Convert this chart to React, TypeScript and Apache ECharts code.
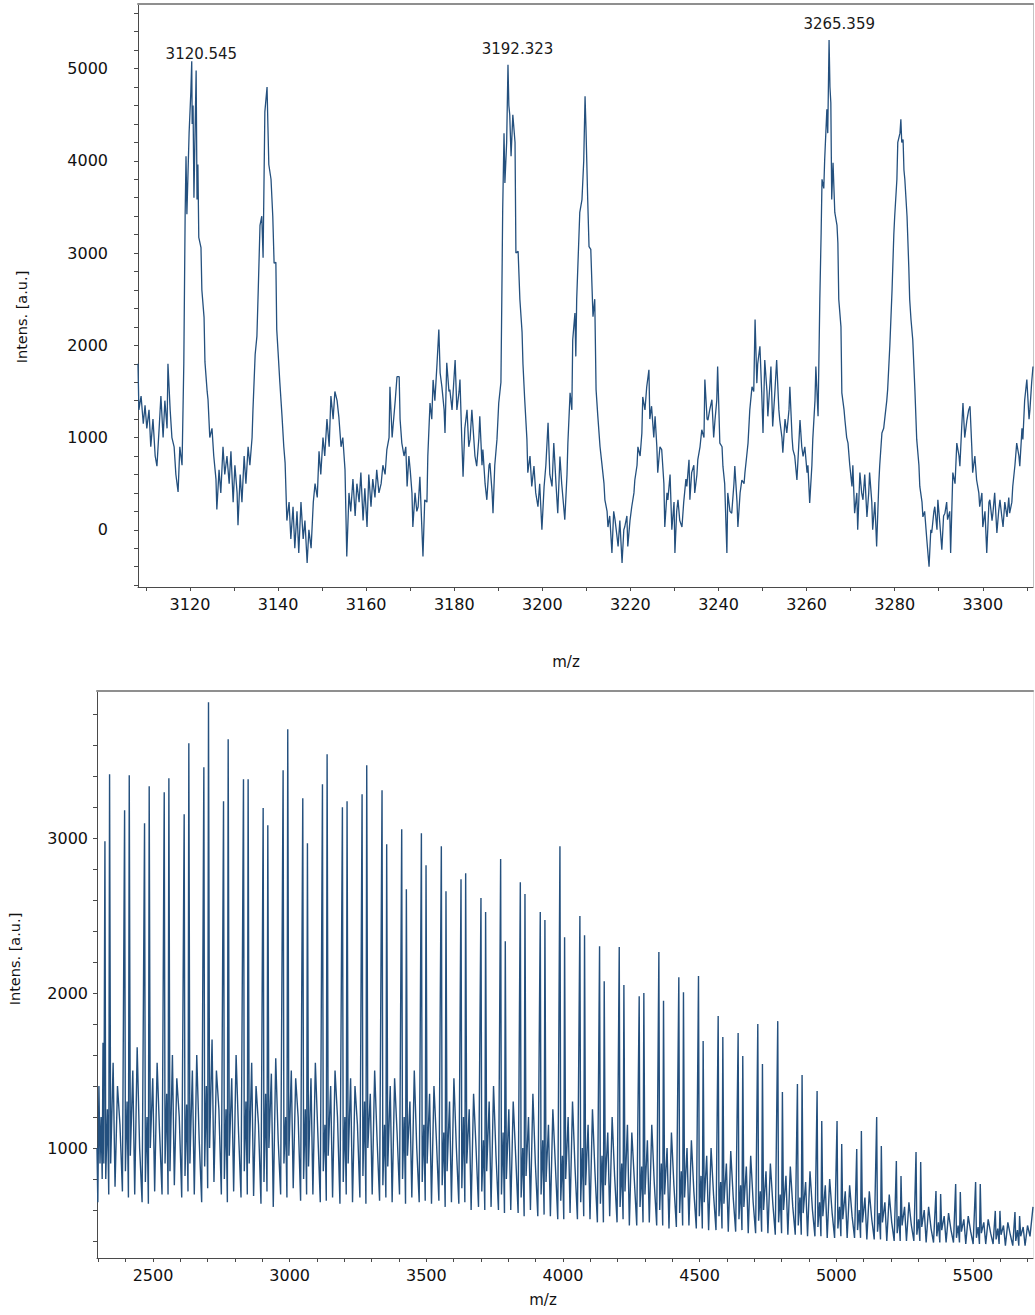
import React, { useEffect, useRef } from "react";
import * as echarts from "echarts";

// ---------- Top spectrum (zoomed m/z 3108–3311) ----------
const topSpectrum: [number, number][] = [
  [3108.2, 1800], [3108.4, 1300], [3108.9, 1450], [3109.4, 1150], [3109.8, 1350], [3110.2, 1100], [3110.7, 1300], [3111.1, 900],
  [3111.6, 1200], [3112.1, 800], [3112.5, 690], [3113.0, 1100], [3113.4, 1450], [3113.9, 1000], [3114.3, 1400], [3114.8, 1100],
  [3115.0, 1800], [3115.5, 1300], [3115.9, 1000], [3116.4, 900], [3116.8, 600], [3117.3, 410], [3117.7, 900], [3118.2, 700],
  [3118.6, 1800], [3118.9, 3400], [3119.1, 4050], [3119.3, 3420], [3119.8, 4300], [3120.2, 4750], [3120.4, 5080], [3120.5, 4400],
  [3120.7, 4600], [3120.9, 3600], [3121.4, 4980], [3121.6, 3580], [3121.8, 3960], [3122.0, 3170], [3122.5, 3060], [3122.7, 2600],
  [3123.2, 2300], [3123.4, 1820], [3123.9, 1500], [3124.1, 1410], [3124.5, 1000], [3125.0, 1100], [3125.4, 800], [3125.9, 550],
  [3126.1, 220], [3126.6, 650], [3127.0, 400], [3127.5, 900], [3127.9, 600], [3128.4, 800], [3128.9, 500], [3129.3, 850],
  [3129.8, 300], [3130.2, 700], [3130.7, 400], [3130.9, 50], [3131.4, 600], [3131.8, 300], [3132.3, 800], [3132.7, 500],
  [3133.2, 900], [3133.6, 700], [3134.1, 1000], [3134.3, 1300], [3134.8, 1900], [3135.2, 2100], [3135.5, 2600], [3135.9, 3300],
  [3136.3, 3400], [3136.6, 2950], [3137.0, 4530], [3137.5, 4800], [3137.7, 4370], [3137.9, 3960], [3138.4, 3800], [3138.8, 3400],
  [3139.1, 2890], [3139.5, 2900], [3139.7, 2170], [3140.0, 1930], [3140.4, 1600], [3140.9, 1230], [3141.3, 900], [3141.6, 725],
  [3142.0, 100], [3142.5, 300], [3142.9, -100], [3143.4, 250], [3143.8, -200], [3144.3, 200], [3144.7, -250], [3145.2, 300],
  [3145.7, -100], [3146.1, 100], [3146.6, -360], [3147.0, 0], [3147.5, -200], [3148.0, 300], [3148.4, 500], [3148.9, 350],
  [3149.3, 850], [3149.7, 600], [3150.2, 1000], [3150.6, 800], [3151.1, 1200], [3151.6, 900], [3152.0, 1450], [3152.5, 1200],
  [3152.9, 1500], [3153.4, 1400], [3153.8, 1225], [3154.3, 900], [3154.7, 1000], [3155.2, 650], [3155.6, -290], [3156.1, 400],
  [3156.5, 200], [3157.0, 550], [3157.5, 150], [3157.9, 500], [3158.4, 300], [3158.8, 620], [3159.3, 100], [3159.7, 450],
  [3160.2, 30], [3160.6, 600], [3161.1, 250], [3161.5, 550], [3162.0, 350], [3162.4, 650], [3162.9, 400], [3163.4, 500],
  [3163.8, 700], [3164.3, 600], [3164.7, 870], [3165.2, 1000], [3165.4, 1550], [3165.9, 1000], [3166.1, 1120], [3166.6, 1400],
  [3167.0, 1660], [3167.5, 1660], [3167.7, 1200], [3168.1, 940], [3168.6, 800], [3169.0, 900], [3169.3, 470], [3169.7, 800],
  [3170.0, 650], [3170.4, 400], [3170.6, 30], [3171.1, 400], [3171.5, 200], [3171.8, 250], [3172.2, 575], [3172.5, 200],
  [3172.9, -290], [3173.3, 325], [3173.8, 300], [3174.0, 800], [3174.5, 1375], [3174.9, 1200], [3175.2, 1625], [3175.6, 1400],
  [3176.1, 1810], [3176.5, 2170], [3176.8, 1700], [3177.2, 1550], [3177.7, 1300], [3177.9, 1050], [3178.3, 1810], [3178.8, 1500],
  [3179.0, 1520], [3179.5, 1300], [3180.2, 1840], [3180.6, 1300], [3181.1, 1500], [3181.3, 1630], [3181.7, 1000], [3182.0, 575],
  [3182.4, 1100], [3182.9, 1300], [3183.3, 900], [3183.6, 980], [3184.0, 1300], [3184.2, 1160], [3184.7, 800], [3185.1, 690],
  [3185.6, 1000], [3185.8, 1230], [3186.3, 700], [3186.5, 870], [3187.0, 500], [3187.4, 325], [3187.9, 700], [3188.1, 725],
  [3188.6, 400], [3188.8, 180], [3189.2, 700], [3189.7, 980], [3190.1, 1375], [3190.6, 1600], [3190.8, 2500], [3191.0, 3470],
  [3191.3, 4300], [3191.5, 3760], [3191.9, 4200], [3192.2, 5040], [3192.4, 4600], [3192.6, 4500], [3192.9, 4050], [3193.3, 4500],
  [3193.8, 4200], [3194.0, 3000], [3194.5, 3020], [3194.9, 2500], [3195.4, 2140], [3195.6, 1800], [3196.0, 1410], [3196.5, 980],
  [3196.7, 620], [3197.2, 800], [3197.6, 470], [3198.1, 690], [3198.5, 400], [3199.0, 250], [3199.4, 500], [3199.9, 0],
  [3200.4, 470], [3200.8, 700], [3201.3, 1160], [3201.7, 600], [3202.2, 470], [3202.6, 940], [3203.1, 500], [3203.5, 180],
  [3204.0, 795], [3204.4, 500], [3205.1, 110], [3205.6, 600], [3205.8, 940], [3206.3, 1485], [3206.7, 1300], [3206.9, 2060],
  [3207.4, 2350], [3207.6, 1880], [3207.8, 2500], [3208.5, 3440], [3209.0, 3580], [3209.4, 4000], [3209.7, 4700], [3209.9, 4370],
  [3210.3, 3580], [3210.6, 3070], [3211.0, 3040], [3211.5, 2310], [3211.9, 2500], [3212.2, 1520], [3212.6, 1230], [3213.1, 900],
  [3213.5, 725], [3214.0, 500], [3214.2, 325], [3214.7, 200], [3214.9, 30], [3215.3, 150], [3215.8, -250], [3216.2, 200],
  [3216.5, 110], [3216.9, -50], [3217.2, -180], [3217.6, 100], [3218.1, -360], [3218.5, 0], [3218.7, 30], [3219.2, 150],
  [3219.4, -180], [3219.9, 100], [3220.3, 250], [3220.8, 400], [3221.0, 540], [3221.5, 700], [3221.7, 900], [3222.2, 800],
  [3222.6, 1050], [3222.8, 1440], [3223.3, 1300], [3223.7, 1550], [3224.2, 1735], [3224.4, 1200], [3224.8, 1340], [3225.3, 1000],
  [3225.6, 1230], [3226.0, 900], [3226.2, 620], [3226.7, 900], [3227.1, 870], [3227.6, 500], [3227.8, 30], [3228.3, 400],
  [3228.5, 325], [3229.0, 600], [3229.4, 0], [3229.9, 300], [3230.1, -250], [3230.5, 200], [3230.8, 325], [3231.2, 100],
  [3231.7, 30], [3232.1, 300], [3232.6, 550], [3232.8, 470], [3233.3, 760], [3233.5, 325], [3233.9, 620], [3234.4, 700],
  [3234.6, 400], [3235.1, 600], [3235.3, 760], [3235.8, 900], [3236.2, 1085], [3236.7, 1000], [3236.9, 1630], [3237.4, 1200],
  [3237.6, 1190], [3238.0, 1300], [3238.5, 1410], [3238.9, 1000], [3239.2, 1190], [3239.6, 1400], [3239.8, 1770], [3240.3, 940],
  [3240.8, 900], [3241.0, 690], [3241.4, 500], [3241.9, -250], [3242.1, 400], [3242.6, 200], [3243.0, 180], [3243.5, 500],
  [3243.7, 690], [3244.2, 300], [3244.4, 30], [3244.9, 400], [3245.3, 540], [3245.8, 500], [3246.0, 620], [3246.4, 800],
  [3246.7, 940], [3247.1, 1300], [3247.6, 1550], [3248.0, 1500], [3248.3, 2280], [3248.7, 1590], [3248.9, 1800], [3249.4, 1990],
  [3249.8, 1500], [3250.1, 1050], [3250.5, 1840], [3251.0, 1500], [3251.2, 1230], [3251.7, 1600], [3251.9, 1770], [3252.3, 1120],
  [3252.8, 1500], [3253.2, 1840], [3253.7, 1300], [3253.9, 1190], [3254.4, 1000], [3254.6, 835], [3255.1, 1200], [3255.5, 1050],
  [3256.0, 1300], [3256.2, 1550], [3256.7, 1000], [3256.9, 870], [3257.3, 800], [3257.8, 540], [3258.2, 900], [3258.5, 1190],
  [3258.9, 900], [3259.2, 795], [3259.6, 900], [3260.1, 620], [3260.3, 700], [3260.7, 290], [3261.2, 700], [3261.4, 980],
  [3261.9, 1400], [3262.1, 1770], [3262.6, 1230], [3263.0, 2500], [3263.3, 3220], [3263.5, 3800], [3263.9, 3700], [3264.1, 4010],
  [3264.6, 4560], [3264.8, 4300], [3265.1, 5310], [3265.3, 4800], [3265.5, 4630], [3265.7, 3580], [3266.0, 3980], [3266.4, 3440],
  [3266.9, 3300], [3267.1, 3110], [3267.3, 2500], [3267.8, 2200], [3268.0, 1485], [3268.5, 1300], [3268.7, 1190], [3269.1, 1000],
  [3269.4, 940], [3269.8, 700], [3270.3, 470], [3270.5, 700], [3270.9, 180], [3271.4, 400], [3271.6, 0], [3272.1, 620],
  [3272.5, 400], [3272.8, 325], [3273.2, 600], [3273.7, 140], [3274.1, 400], [3274.3, 620], [3274.8, 300], [3275.0, 0],
  [3275.5, 300], [3275.9, -180], [3276.4, 510], [3276.6, 700], [3277.1, 1050], [3277.5, 1100], [3277.8, 1230], [3278.2, 1400],
  [3278.4, 1520], [3278.9, 2000], [3279.4, 2600], [3279.8, 3200], [3280.0, 3400], [3280.5, 3800], [3280.7, 4200], [3281.2, 4300],
  [3281.4, 4450], [3281.6, 4200], [3281.9, 4230], [3282.1, 3900], [3282.3, 3800], [3282.8, 3400], [3283.2, 2850], [3283.4, 2500],
  [3283.7, 2280], [3284.1, 2060], [3284.6, 1500], [3285.0, 980], [3285.5, 700], [3285.7, 470], [3286.2, 300], [3286.4, 140],
  [3286.8, 200], [3287.3, -110], [3287.8, -400], [3288.2, 0], [3288.4, -35], [3288.9, 200], [3289.1, 250], [3289.6, 0],
  [3289.8, 325], [3290.2, 100], [3290.7, -215], [3291.1, 150], [3291.4, 180], [3291.8, 300], [3292.0, 110], [3292.5, 200],
  [3292.7, -250], [3293.2, 620], [3293.7, 500], [3294.1, 940], [3294.6, 800], [3294.8, 690], [3295.2, 1100], [3295.5, 1375],
  [3295.9, 1000], [3296.4, 1190], [3296.8, 1300], [3297.1, 1340], [3297.5, 900], [3297.7, 620], [3298.2, 800], [3298.6, 540],
  [3299.1, 400], [3299.3, 250], [3299.8, 400], [3300.0, 30], [3300.5, 200], [3300.9, -250], [3301.4, 300], [3301.6, 325],
  [3302.1, 100], [3302.3, 180], [3302.7, 400], [3303.2, -35], [3303.6, 200], [3303.9, 325], [3304.3, 150], [3304.6, 30],
  [3305.0, 300], [3305.5, 140], [3305.9, 350], [3306.1, 180], [3306.6, 300], [3306.8, 470], [3307.3, 700], [3307.7, 940],
  [3308.2, 800], [3308.4, 690], [3308.9, 1100], [3309.1, 980], [3309.5, 1400], [3310.0, 1630], [3310.5, 1200], [3310.7, 1300],
  [3311.1, 1600], [3311.4, 1770],
];

// ---------- Bottom spectrum (full m/z 2295–5720) ----------
const bottomSpectrum: [number, number][] = [
  [2295, 1000], [2298, 650], [2302, 1400], [2306, 900], [2310, 1200], [2314, 800], [2317, 1680], [2320, 900],
  [2324, 2980], [2327, 800], [2333, 1250], [2338, 700], [2341, 3413], [2345, 900], [2354, 1550], [2361, 750], [2370, 1400], [2379, 1150], [2388, 720],
  [2396, 3180], [2399, 850], [2405, 1300], [2410, 680], [2413, 3406], [2417, 950], [2426, 1500], [2433, 700], [2442, 1650], [2451, 1000], [2460, 650],
  [2469, 3097], [2472, 780], [2478, 1200], [2483, 640], [2486, 3335], [2490, 1000], [2499, 1450], [2506, 720], [2515, 1550], [2524, 1100], [2533, 700],
  [2541, 3297], [2544, 900], [2550, 1350], [2555, 700], [2558, 3387], [2562, 850], [2571, 1600], [2578, 760], [2587, 1450], [2596, 1200], [2605, 680],
  [2614, 3155], [2617, 820], [2623, 1280], [2628, 720], [2631, 3613], [2635, 900], [2644, 1500], [2651, 700], [2660, 1600], [2669, 1050], [2678, 650],
  [2686, 3458], [2689, 880], [2695, 1400], [2700, 740], [2703, 3877], [2707, 1000], [2716, 1700], [2723, 780], [2732, 1500], [2741, 1250], [2750, 700],
  [2758, 3239], [2761, 800], [2767, 1250], [2772, 650], [2775, 3639], [2779, 950], [2788, 1450], [2795, 720], [2804, 1600], [2813, 1100], [2822, 680],
  [2831, 3381], [2834, 850], [2840, 1300], [2845, 700], [2848, 3381], [2852, 900], [2861, 1550], [2868, 690], [2877, 1400], [2886, 1150], [2895, 640],
  [2903, 3194], [2906, 780], [2912, 1350], [2917, 720], [2920, 3084], [2924, 1000], [2933, 1480], [2940, 620], [2949, 1580], [2958, 1050], [2967, 700],
  [2976, 3439], [2979, 900], [2985, 1200], [2990, 680], [2993, 3703], [2997, 950], [3006, 1500], [3013, 740], [3022, 1450], [3031, 1200], [3040, 660],
  [3048, 3258], [3051, 800], [3057, 1250], [3062, 700], [3065, 2968], [3069, 880], [3078, 1450], [3085, 700], [3094, 1550], [3103, 1100], [3112, 650],
  [3120, 3348], [3123, 850], [3129, 1150], [3134, 660], [3137, 3542], [3141, 950], [3150, 1400], [3157, 680], [3166, 1500], [3175, 1200], [3184, 640],
  [3193, 3200], [3196, 780], [3202, 1200], [3207, 700], [3210, 3239], [3214, 900], [3223, 1450], [3230, 650], [3239, 1400], [3248, 1150], [3257, 680],
  [3265, 3284], [3268, 820], [3274, 1300], [3279, 640], [3282, 3471], [3286, 1000], [3295, 1350], [3302, 700], [3311, 1500], [3320, 1050], [3329, 660],
  [3338, 3310], [3341, 760], [3347, 1150], [3352, 680], [3355, 2961], [3359, 880], [3368, 1400], [3375, 650], [3384, 1450], [3393, 1100], [3402, 700],
  [3410, 3058], [3413, 800], [3419, 1200], [3424, 640], [3427, 2671], [3431, 950], [3440, 1300], [3447, 680], [3456, 1500], [3465, 1000], [3474, 650],
  [3482, 3032], [3485, 780], [3491, 1150], [3496, 660], [3499, 2826], [3503, 900], [3512, 1350], [3519, 640], [3528, 1400], [3537, 1050], [3546, 660],
  [3555, 2948], [3558, 760], [3564, 1100], [3569, 620], [3572, 2658], [3576, 850], [3585, 1300], [3592, 650], [3601, 1450], [3610, 1000], [3619, 640],
  [3627, 2735], [3630, 740], [3636, 1200], [3641, 650], [3644, 2774], [3648, 900], [3657, 1250], [3664, 600], [3673, 1350], [3682, 1000], [3691, 620],
  [3700, 2613], [3703, 720], [3709, 1050], [3714, 600], [3717, 2523], [3721, 850], [3730, 1300], [3737, 620], [3746, 1400], [3755, 950], [3764, 600],
  [3772, 2865], [3775, 700], [3781, 1100], [3786, 580], [3789, 2335], [3793, 800], [3802, 1250], [3809, 600], [3818, 1300], [3827, 950], [3836, 580],
  [3844, 2716], [3847, 680], [3853, 1000], [3858, 560], [3861, 2639], [3865, 820], [3874, 1200], [3881, 600], [3890, 1350], [3899, 900], [3908, 560],
  [3917, 2523], [3920, 700], [3926, 1050], [3931, 570], [3934, 2471], [3938, 780], [3947, 1150], [3954, 560], [3963, 1250], [3972, 900], [3981, 540],
  [3989, 2948], [3992, 660], [3998, 950], [4003, 540], [4006, 2361], [4010, 800], [4019, 1200], [4026, 580], [4035, 1300], [4044, 880], [4053, 540],
  [4062, 2497], [4065, 650], [4071, 1000], [4076, 560], [4079, 2374], [4083, 760], [4092, 1150], [4099, 540], [4108, 1250], [4117, 850], [4126, 520],
  [4134, 2303], [4137, 640], [4143, 950], [4148, 520], [4151, 2077], [4155, 760], [4164, 1100], [4171, 560], [4180, 1200], [4189, 820], [4198, 520],
  [4206, 2297], [4209, 620], [4215, 900], [4220, 540], [4223, 2052], [4227, 720], [4236, 1150], [4243, 500], [4252, 1100], [4261, 800], [4270, 500],
  [4279, 1980], [4282, 620], [4288, 880], [4293, 520], [4296, 2000], [4300, 700], [4309, 1050], [4316, 520], [4325, 1150], [4334, 780], [4343, 500],
  [4351, 2265], [4354, 600], [4360, 900], [4365, 500], [4368, 1950], [4372, 700], [4381, 1000], [4388, 480], [4397, 1100], [4406, 760], [4415, 490],
  [4424, 2103], [4427, 580], [4433, 850], [4438, 500], [4441, 2006], [4445, 680], [4454, 1000], [4461, 500], [4470, 1050], [4479, 720], [4488, 480],
  [4496, 2110], [4499, 560], [4505, 820], [4510, 480], [4513, 1690], [4517, 650], [4526, 950], [4533, 470], [4542, 1000], [4551, 700], [4560, 470],
  [4568, 1852], [4571, 560], [4577, 780], [4582, 480], [4585, 1716], [4589, 640], [4598, 900], [4605, 460], [4614, 980], [4623, 680], [4632, 460],
  [4641, 1742], [4644, 540], [4650, 760], [4655, 470], [4658, 1594], [4662, 620], [4671, 880], [4678, 450], [4687, 950], [4696, 650], [4705, 450],
  [4713, 1800], [4716, 530], [4722, 720], [4727, 460], [4730, 1542], [4734, 600], [4743, 850], [4750, 450], [4759, 900], [4768, 640], [4777, 440],
  [4786, 1819], [4789, 520], [4795, 700], [4800, 450], [4803, 1361], [4807, 600], [4816, 820], [4823, 440], [4832, 880], [4841, 620], [4850, 440],
  [4858, 1413], [4861, 500], [4867, 680], [4872, 440], [4875, 1471], [4879, 580], [4888, 780], [4895, 430], [4904, 850], [4913, 600], [4922, 430],
  [4930, 1368], [4933, 490], [4939, 650], [4944, 430], [4947, 1174], [4951, 560], [4960, 760], [4967, 420], [4976, 800], [4985, 580], [4994, 420],
  [5003, 1174], [5006, 480], [5012, 620], [5017, 430], [5020, 1026], [5024, 540], [5033, 720], [5040, 420], [5049, 760], [5058, 560], [5067, 420],
  [5075, 994], [5078, 470], [5084, 600], [5089, 420], [5092, 1110], [5096, 520], [5105, 680], [5112, 410], [5121, 720], [5130, 540], [5139, 410],
  [5148, 1200], [5151, 460], [5157, 580], [5162, 410], [5165, 1013], [5169, 520], [5178, 650], [5185, 400], [5194, 700], [5203, 520], [5212, 400],
  [5220, 916], [5223, 450], [5229, 560], [5234, 400], [5237, 819], [5241, 500], [5250, 620], [5257, 400], [5266, 650], [5275, 500], [5284, 400],
  [5292, 974], [5295, 440], [5301, 540], [5306, 400], [5309, 910], [5313, 490], [5322, 600], [5329, 390], [5338, 620], [5347, 480], [5356, 390],
  [5365, 723], [5368, 430], [5374, 520], [5379, 390], [5382, 703], [5386, 470], [5395, 560], [5402, 390], [5411, 580], [5420, 470], [5429, 390],
  [5437, 768], [5440, 420], [5446, 500], [5451, 390], [5454, 716], [5458, 460], [5467, 540], [5474, 380], [5483, 560], [5492, 460], [5501, 380],
  [5510, 781], [5513, 420], [5519, 490], [5524, 380], [5527, 768], [5531, 450], [5540, 520], [5547, 380], [5556, 540], [5565, 450], [5574, 380],
  [5582, 594], [5585, 410], [5591, 480], [5596, 380], [5599, 594], [5603, 440], [5612, 500], [5619, 370], [5628, 520], [5637, 440], [5646, 370],
  [5654, 587], [5657, 400], [5663, 470], [5668, 370], [5671, 561], [5675, 430], [5684, 490], [5691, 370], [5700, 500], [5709, 430], [5720, 620],
];

// ---------- Axis ticks / labels ----------
const topXLabels = [3120, 3140, 3160, 3180, 3200, 3220, 3240, 3260, 3280, 3300];
const topXTicks = [3110, 3120, 3130, 3140, 3150, 3160, 3170, 3180, 3190, 3200, 3210, 3220, 3230, 3240, 3250, 3260, 3270, 3280, 3290, 3300, 3310];
const topYLabels = [0, 1000, 2000, 3000, 4000, 5000];
const topYTicks = [-600, -400, -200, 0, 200, 400, 600, 800, 1000, 1200, 1400, 1600, 1800, 2000, 2200, 2400, 2600, 2800, 3000, 3200, 3400, 3600, 3800, 4000, 4200, 4400, 4600, 4800, 5000, 5200, 5400, 5600];
const bottomXLabels = [2500, 3000, 3500, 4000, 4500, 5000, 5500];
const bottomXTicks = [2300, 2400, 2500, 2600, 2700, 2800, 2900, 3000, 3100, 3200, 3300, 3400, 3500, 3600, 3700, 3800, 3900, 4000, 4100, 4200, 4300, 4400, 4500, 4600, 4700, 4800, 4900, 5000, 5100, 5200, 5300, 5400, 5500, 5600, 5700];
const bottomYLabels = [1000, 2000, 3000];
const bottomYTicks = [400, 600, 800, 1000, 1200, 1400, 1600, 1800, 2000, 2200, 2400, 2600, 2800, 3000, 3200, 3400, 3600, 3800];

// ---------- Peak annotations ----------
const peakMz = [3120.545, 3192.323, 3265.359];
const peakIntens = [4980, 5040, 5310];
const peakText = ["3120.545", "3192.323", "3265.359"];

const FONT = "DejaVu Sans";
const LINE_COLOR = "#24507e";
const AXIS_COLOR = "#4a4a4a";
const TEXT_COLOR = "#111";
const plain = (v: number) => String(v);

function mainXAxis(gridIndex: number, min: number, max: number, ticks: number[], labels: number[]) {
  return {
    type: "value", gridIndex, position: "bottom", min, max,
    axisLine: { show: true, onZero: false, lineStyle: { color: AXIS_COLOR, width: 1 } },
    axisTick: { show: true, customValues: ticks, length: 4, lineStyle: { color: AXIS_COLOR } },
    axisLabel: { show: true, customValues: labels, formatter: plain, fontFamily: FONT, fontSize: 16, color: TEXT_COLOR, margin: 9 },
    splitLine: { show: false },
  };
}
function frameXAxis(gridIndex: number, min: number, max: number) {
  return {
    type: "value", gridIndex, position: "top", min, max,
    axisLine: { show: true, onZero: false, lineStyle: { color: "#8f8f8f", width: 2 } },
    axisTick: { show: false }, axisLabel: { show: false }, splitLine: { show: false },
  };
}
function mainYAxis(gridIndex: number, min: number, max: number, ticks: number[], labels: number[], margin: number) {
  return {
    type: "value", gridIndex, position: "left", min, max,
    axisLine: { show: true, onZero: false, lineStyle: { color: AXIS_COLOR, width: 1 } },
    axisTick: { show: true, customValues: ticks, length: 4, lineStyle: { color: AXIS_COLOR } },
    axisLabel: { show: true, customValues: labels, formatter: plain, fontFamily: FONT, fontSize: 16, color: TEXT_COLOR, margin },
    splitLine: { show: false },
  };
}
function frameYAxis(gridIndex: number, min: number, max: number, color: string) {
  return {
    type: "value", gridIndex, position: "right", min, max,
    axisLine: { show: true, onZero: false, lineStyle: { color, width: 1 } },
    axisTick: { show: false }, axisLabel: { show: false }, splitLine: { show: false },
  };
}

export default function App() {
  const ref = useRef<HTMLDivElement>(null);
  useEffect(() => {
    document.body.style.margin = "0";
    const chart = echarts.init(ref.current!, undefined, { renderer: "svg" });
    chart.setOption({
      animation: false,
      backgroundColor: "#ffffff",
      textStyle: { fontFamily: FONT },
      grid: [
        { left: 138, top: 4, width: 895, height: 583 },
        { left: 97, top: 691, width: 936, height: 567 },
      ],
      xAxis: [
        mainXAxis(0, 3108.2, 3311.4, topXTicks, topXLabels),
        frameXAxis(0, 3108.2, 3311.4),
        mainXAxis(1, 2295, 5720, bottomXTicks, bottomXLabels),
        frameXAxis(1, 2295, 5720),
      ],
      yAxis: [
        mainYAxis(0, -620, 5700, topYTicks, topYLabels, 30),
        frameYAxis(0, -620, 5700, "#c4c4c4"),
        mainYAxis(1, 290, 3950, bottomYTicks, bottomYLabels, 9),
        frameYAxis(1, 290, 3950, "#e4e4e4"),
      ],
      series: [
        {
          type: "line", xAxisIndex: 0, yAxisIndex: 0, data: topSpectrum,
          showSymbol: false, symbol: "none", clip: true,
          lineStyle: { color: LINE_COLOR, width: 1.3 },
          markPoint: {
            symbol: "rect", symbolSize: 1,
            itemStyle: { color: "rgba(0,0,0,0)" },
            label: {
              show: true, position: "top", distance: 8, offset: [9, 0],
              formatter: "{b}", fontFamily: FONT, fontSize: 15, color: "#1a1a1a",
            },
            data: peakMz.map((m, i) => ({ coord: [m, peakIntens[i]], name: peakText[i] })),
          },
        },
        {
          type: "line", xAxisIndex: 2, yAxisIndex: 2, data: bottomSpectrum,
          showSymbol: false, symbol: "none", clip: true,
          lineStyle: { color: LINE_COLOR, width: 1.4 },
        },
      ],
      graphic: [
        { type: "text", x: 566, y: 662, style: { text: "m/z", font: `15px "${FONT}"`, fill: TEXT_COLOR, align: "center", verticalAlign: "middle" } },
        { type: "text", x: 543, y: 1300, style: { text: "m/z", font: `15px "${FONT}"`, fill: TEXT_COLOR, align: "center", verticalAlign: "middle" } },
        { type: "text", x: 22, y: 317, rotation: Math.PI / 2, style: { text: "Intens. [a.u.]", font: `14.5px "${FONT}"`, fill: TEXT_COLOR, align: "center", verticalAlign: "middle" } },
        { type: "text", x: 15, y: 959, rotation: Math.PI / 2, style: { text: "Intens. [a.u.]", font: `14.5px "${FONT}"`, fill: TEXT_COLOR, align: "center", verticalAlign: "middle" } },
      ],
    });
    return () => chart.dispose();
  }, []);
  return <div ref={ref} style={{ width: 1035, height: 1315 }} />;
}
